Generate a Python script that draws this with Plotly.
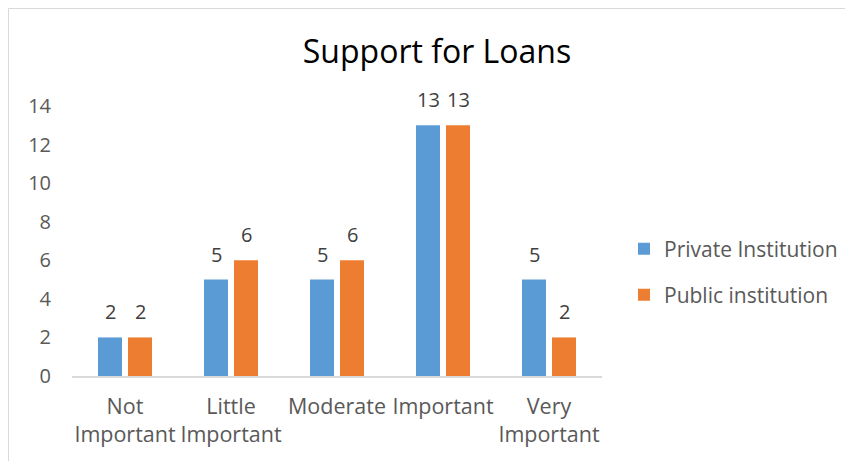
import plotly.graph_objects as go

categories = ["Not<br>Important", "Little<br>Important", "Moderate", "Important", "Very<br>Important"]
private_vals = [2, 5, 5, 13, 5]
public_vals = [2, 6, 6, 13, 2]
series_names = ["Private Institution", "Public institution"]
y_ticks = [0, 2, 4, 6, 8, 10, 12, 14]

BLUE = "#5B9BD5"
ORANGE = "#ED7D31"
FONT = "Open Sans"

# page offset of the figure div (body margin)
OX, OY = 8, 8
W, H = 853, 461
# plot area in page pixels: x 72..602, y 106..376
L = 72 - OX
T = 106 - OY
R = W - (602 - OX)
B = H - (376 - OY)

fig = go.Figure()
fig.add_trace(go.Bar(x=categories, y=private_vals, name=series_names[0], showlegend=True,
                     marker=dict(color=BLUE, line=dict(width=0)), legend="legend"))
fig.add_trace(go.Bar(x=categories, y=public_vals, name=series_names[1], showlegend=True,
                     marker=dict(color=ORANGE, line=dict(width=0)), legend="legend2"))

annotations = []
for vals, xs in ((private_vals, -15), (public_vals, 15)):
    for c, v in zip(categories, vals):
        annotations.append(dict(x=c, y=v, xref="x", yref="y", text=str(v), showarrow=False,
                                xshift=xs, yshift=10, yanchor="bottom",
                                font=dict(family=FONT, size=20, color="#404040")))

pw = W - L - R
ph = H - T - B
def px_x(p):
    return (p - OX - L) / pw
def px_y(p):
    return (H - B - (p - OY)) / ph

shapes = [
    dict(type="line", xref="paper", yref="paper", x0=px_x(8.5), x1=px_x(8.5), y0=px_y(480), y1=px_y(8.5),
         line=dict(color="#D9D9D9", width=1)),
    dict(type="line", xref="paper", yref="paper", x0=px_x(8.5), x1=px_x(870), y0=px_y(8.5), y1=px_y(8.5),
         line=dict(color="#D9D9D9", width=1)),
]

fig.update_layout(
    width=W, height=H,
    margin=dict(l=L, r=R, t=T, b=B),
    paper_bgcolor="white", plot_bgcolor="white",
    barmode="group", bargap=0.434, bargroupgap=0.2,
    title=dict(text="Support for Loans", x=(437 - OX) / W, xanchor="center", y=1 - (52 - OY) / H,
               yanchor="middle", font=dict(family=FONT, size=32, color="#000000")),
    font=dict(family=FONT, size=20, color="#595959"),
    xaxis=dict(showline=True, linecolor="#D9D9D9", linewidth=1.5, showgrid=False, ticks="",
               tickfont=dict(family=FONT, size=21.5, color="#595959"), ticklabelstandoff=10),
    yaxis=dict(range=[0, 14], tickvals=y_ticks, showgrid=False, zeroline=False, showline=False,
               ticks="", tickfont=dict(family=FONT, size=20, color="#595959"), ticklabelstandoff=20),
    legend=dict(x=px_x(624), y=px_y(249), xanchor="left", yanchor="middle",
                font=dict(family=FONT, size=21, color="#595959"), bgcolor="rgba(0,0,0,0)"),
    legend2=dict(x=px_x(624), y=px_y(295), xanchor="left", yanchor="middle",
                 font=dict(family=FONT, size=21, color="#595959"), bgcolor="rgba(0,0,0,0)"),
    annotations=annotations,
    shapes=shapes,
)

fig.write_html("out.html")
